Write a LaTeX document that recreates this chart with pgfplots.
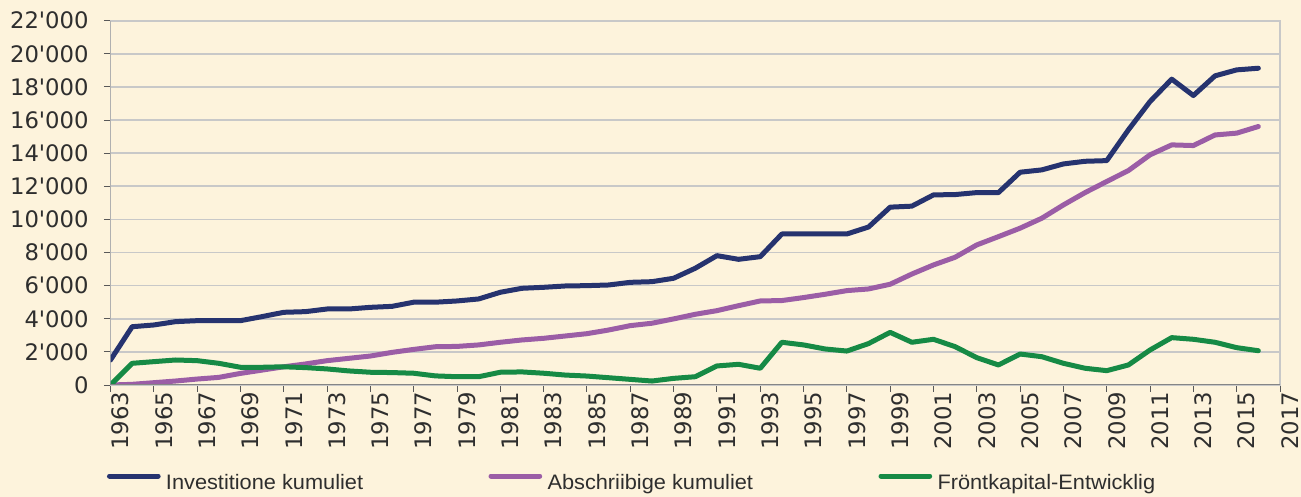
\documentclass[border=0pt]{standalone}
\usepackage{fontspec}
\setmainfont{Liberation Sans}
\newfontfamily\tickfont[Ligatures=TeXOff]{DejaVu Sans}
\newfontfamily\legfont[FakeStretch=1.04]{Liberation Sans}
\usepackage{pgfplots}
\usepackage{pgfplotstable}
\pgfplotsset{compat=1.18}
\definecolor{cream}{HTML}{FDF3DC}
\definecolor{gridgray}{HTML}{C8C8C8}
\definecolor{axisgray}{HTML}{858585}
\definecolor{txtgray}{HTML}{2E2E2E}
\definecolor{navy}{HTML}{26336F}
\definecolor{lila}{HTML}{9B5DA6}
\definecolor{gruen}{HTML}{168A45}
\pgfplotstableread{
year inv abs fk
1963 1510 0 0
1964 3520 40 1310
1965 3625 140 1410
1966 3825 240 1510
1967 3885 360 1470
1968 3885 460 1310
1969 3885 700 1070
1970 4130 900 1070
1971 4390 1100 1100
1972 4430 1270 1050
1973 4590 1470 970
1974 4590 1610 850
1975 4690 1750 770
1976 4750 1970 750
1977 5000 2150 710
1978 5000 2310 550
1979 5075 2330 500
1980 5196 2420 500
1981 5600 2580 770
1982 5840 2720 790
1983 5900 2820 710
1984 5980 2960 600
1985 6000 3100 540
1986 6040 3320 440
1987 6200 3585 340
1988 6240 3730 240
1989 6445 3990 400
1990 7050 4270 500
1991 7810 4490 1150
1992 7590 4790 1250
1993 7750 5075 1010
1994 9120 5100 2580
1995 9120 5280 2420
1996 9120 5480 2175
1997 9120 5700 2050
1998 9540 5800 2500
1999 10740 6085 3180
2000 10800 6700 2580
2001 11480 7250 2760
2002 11500 7715 2315
2003 11620 8460 1650
2004 11620 8960 1210
2005 12850 9470 1870
2006 12990 10070 1710
2007 13350 10875 1310
2008 13510 11620 1010
2009 13550 12290 865
2010 15410 12950 1210
2011 17120 13900 2115
2012 18470 14500 2860
2013 17480 14460 2760
2014 18670 15100 2580
2015 19030 15210 2255
2016 19130 15610 2070
}\datatable
\begin{document}
\begin{tikzpicture}
\fill[cream] (0,0) rectangle (650.5bp,248.5bp);
\begin{axis}[
  at={(55.25bp,56bp)}, anchor=south west,
  scale only axis, width=584.75bp, height=182.15bp,
  xmin=1963, xmax=2017, ymin=0, ymax=22000,
  xtick={1963,1965,...,2017},
  ytick={0,2000,...,22000},
  scaled ticks=false,
  axis background/.style={fill=cream},
  ymajorgrids, grid style={draw=gridgray, line width=0.85bp},
  axis line style={draw=gridgray, line width=0.85bp},
  tick align=outside, xtick pos=lower, ytick pos=left,
  major tick length=3.3bp,
  tick style={draw=txtgray!80, line width=0.5bp},
  /pgf/number format/assume math mode=true,
  /pgf/number format/1000 sep={\char39\relax},
  ticklabel style={font=\tickfont\fontsize{11.4}{13}\selectfont, text=txtgray, inner sep=0pt},
  yticklabel style={anchor=east, xshift=-7.45bp},
  xticklabel style={rotate=90, anchor=east, yshift=-5bp, /pgf/number format/1000 sep={}},
  legend columns=3,
  legend style={at={(axis description cs:-0.003,-0.269)}, anchor=west, draw=none, fill=none,
    inner sep=0pt, outer sep=0pt, nodes={inner sep=0pt},
    font=\legfont\fontsize{10.5}{12}\selectfont, text=txtgray,
    /tikz/every odd column/.append style={column sep=2.65bp},
    /tikz/every even column/.append style={column sep=62.7bp}},
  legend cell align=left,
  legend image code/.code={\draw[#1, line width=2.5bp, line cap=round] (1.25bp,3.7bp) -- (25.6bp,3.7bp);},
  every axis plot/.append style={line width=2.5bp, line join=round, line cap=round},
]
\addplot[navy] table[x=year, y=inv] {\datatable};
\addlegendentry{Investitione kumuliet}
\addplot[lila] table[x=year, y=abs] {\datatable};
\addlegendentry{Abschriibige kumuliet}
\addplot[gruen] table[x=year, y=fk] {\datatable};
\addlegendentry{Fröntkapital-Entwicklig}
\draw[axisgray, line width=0.6bp] (rel axis cs:0,0) -- (rel axis cs:0,1);
\draw[axisgray, line width=1bp] (rel axis cs:0,0) -- (rel axis cs:1,0);
\end{axis}
\end{tikzpicture}
\end{document}
